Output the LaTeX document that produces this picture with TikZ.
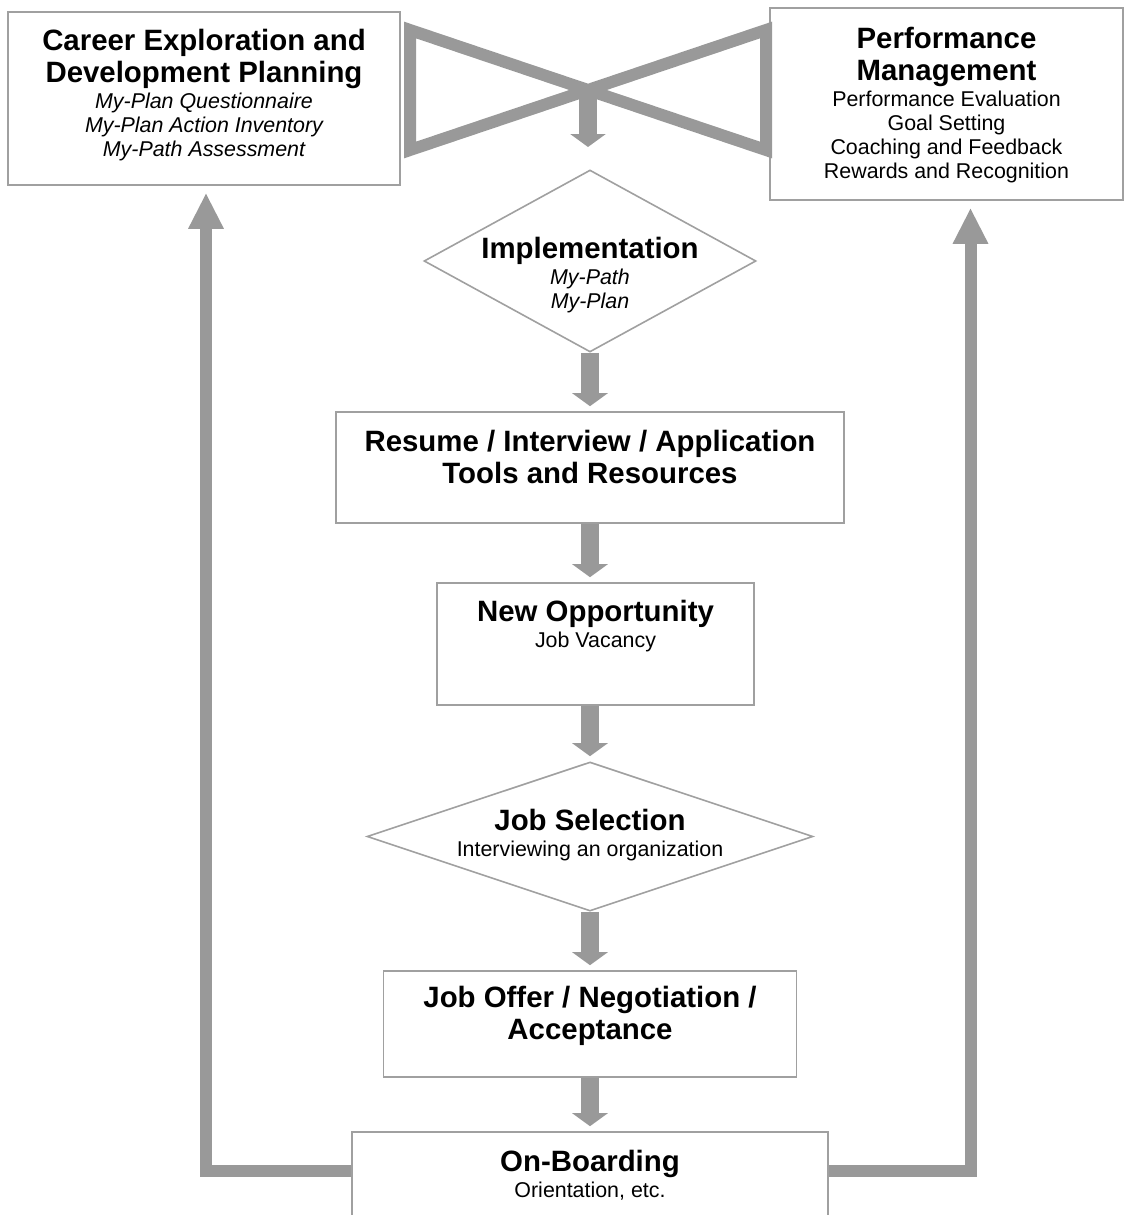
\documentclass[tikz,border=0pt]{standalone}
\usepackage{fontspec}
\setmainfont{Liberation Sans}
\usetikzlibrary{shapes.geometric,arrows.meta,positioning}

\definecolor{flowgray}{HTML}{999999}
\definecolor{edgegray}{HTML}{A0A0A0}
\newcommand{\headfont}{\fontsize{14.7}{16}\selectfont\bfseries}
\newcommand{\subfont}{\fontsize{10.7}{16}\selectfont}

\begin{document}
\begin{tikzpicture}[x=0.5pt, y=-0.5pt,
	frame/.style={draw=edgegray, line width=0.8pt, fill=white, inner sep=0pt},
	choice/.style={frame, diamond},
	txt/.style={inner sep=0pt, align=center, font=\subfont},
	flow/.style={draw=flowgray, line width=9pt, shorten >=2.5pt,
		-{Triangle[width=17.5pt, length=6.5pt]}},
	loopback/.style={draw=flowgray, line width=6pt, line join=miter, shorten >=3.5pt,
		-{Triangle[width=16.5pt, length=18pt]}},
	tie/.style={draw=flowgray, line width=6pt, line join=miter}]

	\useasboundingbox (0,0) rectangle (1125,1215);
	\clip (0,0) rectangle (1125,1215);

	% top row
	\node[frame, minimum width=196pt, minimum height=86.5pt] (plan) at (204,98.5) {};
	\node[txt] (plan-text) at (204,95) {{\headfont Career Exploration and}\\{\headfont Development Planning}\\[-3pt]
		\itshape My-Plan Questionnaire\\[-4pt]\itshape My-Plan Action Inventory\\[-4pt]\itshape My-Path Assessment};

	\node[frame, minimum width=176.5pt, minimum height=96pt] (perf) at (946.5,104) {};
	\node[txt] (perf-text) at (946.5,105) {{\headfont Performance}\\{\headfont Management}\\[-3pt]
		Performance Evaluation\\[-4pt]Goal Setting\\[-4pt]Coaching and Feedback\\[-4pt]Rewards and Recognition};

	% bow tie
	\draw[tie] (410,30) -- (766,150) -- (766,30) -- (410,150) -- cycle;
	\coordinate (knot) at (588,90);
	\coordinate (knot-end) at (588,152);

	% main column
	\node[choice, minimum width=166pt, minimum height=91pt] (impl) at (590,261) {};
	\node[txt] (impl-text) at (590,275) {{\headfont Implementation}\\[-3pt]\itshape My-Path\\[-4pt]\itshape My-Plan};

	\node[frame, minimum width=254pt, minimum height=55.5pt] (resume) at (590,467.5) {};
	\node[txt, font=\headfont, below=9.25pt of resume.north] (resume-text)
		{Resume / Interview / Application\\Tools and Resources};

	\node[frame, minimum width=158.5pt, minimum height=61pt] (newopp) at (595.5,644) {};
	\node[txt, below=9pt of newopp.north] (newopp-text) {{\headfont New Opportunity}\\[-3pt]Job Vacancy};

	\node[choice, minimum width=223pt, minimum height=74.5pt] (jobsel) at (590,836.5) {};
	\node[txt] (jobsel-text) at (590,835) {{\headfont Job Selection}\\[-3pt]Interviewing an organization};

	\node[frame, minimum width=206.5pt, minimum height=53pt] (offer) at (590,1024) {};
	\node[txt, font=\headfont, below=8pt of offer.north] (offer-text)
		{Job Offer / Negotiation /\\Acceptance};

	\node[frame, minimum width=238pt, minimum height=58pt] (onboard) at (590,1190) {};
	\node[txt, below=9.5pt of onboard.north] (onboard-text) {{\headfont On-Boarding}\\[-3pt]Orientation, etc.};

	% arrows down
	\draw[flow] (knot) -- (knot-end);
	\draw[flow] (impl.south) -- (resume.north);
	\draw[flow] (resume.south) -- (newopp.north -| resume.south);
	\draw[flow] (newopp.south -| jobsel.north) -- (jobsel.north);
	\draw[flow] (jobsel.south) -- (offer.north);
	\draw[flow] (offer.south) -- (onboard.north);

	% back to the top
	\draw[loopback] ([yshift=9.5pt]onboard.west) -| ([xshift=1pt]plan.south);
	\draw[loopback] ([yshift=9.5pt]onboard.east) -| ([xshift=12pt]perf.south);
\end{tikzpicture}
\end{document}
